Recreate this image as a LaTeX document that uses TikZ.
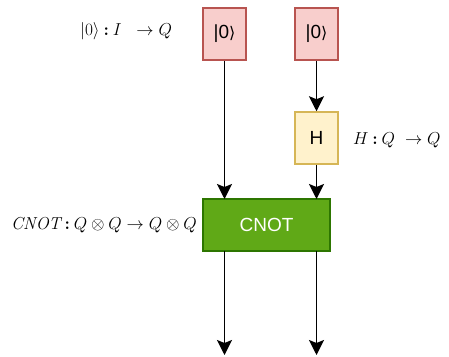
\RequirePackage{fix-cm}
\documentclass[tikz,border=0pt]{standalone}
\usepackage{fontspec}
\usepackage{amsmath}
\newfontfamily\boxfont{Liberation Sans}
\newfontfamily\symfont{DejaVu Sans}
\usetikzlibrary{arrows.meta}
\definecolor{redfill}{HTML}{F8CECC}
\definecolor{redline}{HTML}{B85450}
\definecolor{yelfill}{HTML}{FFF2CC}
\definecolor{yelline}{HTML}{D6B656}
\definecolor{grnfill}{HTML}{60A917}
\definecolor{grnline}{HTML}{2D7600}
\newcommand{\ketzero}{|0{\symfont\fontsize{16}{20}\selectfont ⟩}}
\begin{document}
\begin{tikzpicture}[x=1pt,y=-1pt,
  gate/.style={draw, line width=1.5pt, minimum width=43pt, minimum height=52pt,
    inner sep=0pt, font=\boxfont\fontsize{19}{22}\selectfont},
  prep/.style={gate, fill=redfill, draw=redline},
  hgate/.style={gate, fill=yelfill, draw=yelline},
  cnot/.style={gate, fill=grnfill, draw=grnline, text=white, minimum width=127pt},
  wire/.style={line width=1.8pt, -{Stealth[width=15pt,length=15pt,inset=3pt]}},
  sig/.style={font=\fontsize{17.3}{20}\selectfont, inner sep=0pt}]
\useasboundingbox (0,0) rectangle (449,356);
% state preparations
\node[prep] (z1) at (224.5,34) {\ketzero};
\node[prep] (z2) at (316.5,34) {\ketzero};
% Hadamard
\node[hgate] (h) at (316.5,138) {H};
% controlled-not
\node[cnot] (cx) at (266.5,225) {CNOT};
\coordinate (cxin1) at (224.5,199);
\coordinate (cxin2) at (316.5,199);
\coordinate (cxout1) at (224.5,251);
\coordinate (cxout2) at (316.5,251);
\coordinate (end1) at (224.5,355);
\coordinate (end2) at (316.5,355);
% wires
\draw[wire] (z1.south) -- (cxin1);
\draw[wire] (z2.south) -- (h.north);
\draw[wire] (h.south) -- (cxin2);
\draw[wire] (cxout1) -- (end1);
\draw[wire] (cxout2) -- (end2);
% type signatures
\node[sig, anchor=west] (s1) at (80,31) {$|0\rangle \mathbin{\boldsymbol{:}} I\ \;\to Q$};
\node[sig, anchor=west] (s2) at (353,140) {$H \mathbin{\boldsymbol{:}} Q\ \to Q$};
\node[sig, anchor=east] (s3) at (197,225) {$\mathit{CNOT} \mathbin{\boldsymbol{:}} Q \otimes Q \to Q \otimes Q$};
\end{tikzpicture}
\end{document}
